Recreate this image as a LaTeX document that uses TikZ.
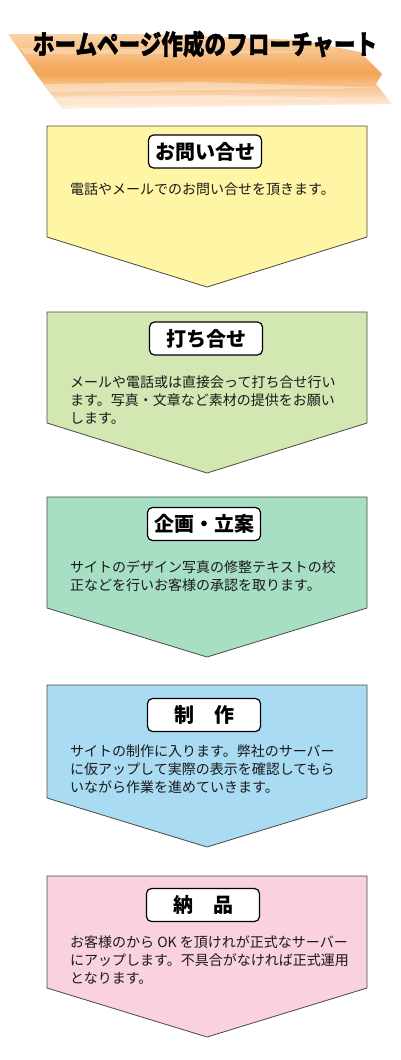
\documentclass[tikz,border=0pt]{standalone}
\usepackage{graphicx}
\usepackage{fontspec}
\newfontfamily\cjk{Noto Sans CJK JP}
\newfontfamily\cjktitle[FakeBold=1.5]{Noto Sans CJK JP}
\definecolor{edgegray}{HTML}{4A4A40}
\definecolor{textgray}{HTML}{1A1A1A}
\definecolor{fillyellow}{HTML}{FFF6A5}
\definecolor{fillgreen}{HTML}{D3E7B3}
\definecolor{fillteal}{HTML}{A7DFC5}
\definecolor{fillblue}{HTML}{A9DBF3}
\definecolor{fillpink}{HTML}{F9D1DF}
\definecolor{brushA}{HTML}{F3A75A}
\definecolor{brushB}{HTML}{FAD3A8}
\definecolor{brushC}{HTML}{FFF4E8}
\begin{document}
\begin{tikzpicture}[x=1pt,y=-1pt,
  stepshape/.style={draw=edgegray, line width=0.8pt},
  titlebox/.style={draw=black, line width=1.2pt, fill=white, rounded corners=5pt,
    minimum width=113pt, minimum height=33pt, inner sep=0pt,
    font=\cjk\bfseries\fontsize{20}{20}\selectfont},
  bodytext/.style={anchor=north west, inner sep=0pt, align=left,
    font=\cjk\fontsize{14}{18}\selectfont, text=textgray},
  titlefont/.style={font=\cjktitle\bfseries\fontsize{27}{27}\selectfont, inner sep=0pt}]
\useasboundingbox (0,0) rectangle (400,1060);
\fill[white] (0,0) rectangle (400,1060);

% brush stroke behind title
\shade[top color=brushB, bottom color=brushA]
  (8,34) -- (150,34) -- (300,40) -- (360,52) -- (382,74) -- (36,74) -- cycle;
\shade[top color=brushA, bottom color=brushC]
  (36,74) -- (382,74) -- (376,84) -- (392,104) -- (250,106) -- (120,108) -- (62,109) -- cycle;
\fill[white, opacity=0.35] (44,84) -- (200,82) -- (386,88) -- (220,90) -- (50,92) -- cycle;
\fill[white, opacity=0.3] (52,97) -- (220,95) -- (390,99) -- (200,101) -- (58,102) -- cycle;
\fill[brushA, opacity=0.35] (30,62) -- (200,60) -- (372,64) -- (380,74) -- (200,78) -- (38,76) -- cycle;
\fill[white, opacity=0.25] (20,48) -- (200,50) -- (340,52) -- (200,54) -- (26,54) -- cycle;

% title
\node[titlefont, text=black] (title) at (205,44)
  {\scalebox{0.8}[1]{ホームページ作成のフローチャート}};

% step 1
\filldraw[stepshape, fill=fillyellow] (47,126) -- (367,126) -- (367,237) -- (207,287) -- (47,237) -- cycle;
\node[titlebox] (t1) at (205,151.5) {お問い合せ};
\node[bodytext] (b1) at (70,183) {電話やメールでのお問い合せを頂きます。};

% step 2
\filldraw[stepshape, fill=fillgreen] (47,312) -- (367,312) -- (367,423) -- (207,473) -- (47,423) -- cycle;
\node[titlebox] (t2) at (206,338.5) {打ち合せ};
\node[bodytext] (b2) at (70,375) {メールや電話或は直接会って打ち合せ行い\\ます。写真・文章など素材の提供をお願い\\します。};

% step 3
\filldraw[stepshape, fill=fillteal] (47,497) -- (367,497) -- (367,608) -- (207,657) -- (47,608) -- cycle;
\node[titlebox] (t3) at (204,524) {企画・立案};
\node[bodytext] (b3) at (70,560) {サイトのデザイン写真の修整テキストの校\\正などを行いお客様の承認を取ります。};

% step 4
\filldraw[stepshape, fill=fillblue] (47,685) -- (367,685) -- (367,798) -- (207,847) -- (47,798) -- cycle;
\node[titlebox] (t4) at (204,715) {制　作};
\node[bodytext] (b4) at (70,745) {サイトの制作に入ります。弊社のサーバー\\に仮アップして実際の表示を確認してもら\\いながら作業を進めていきます。};

% step 5
\filldraw[stepshape, fill=fillpink] (47,876) -- (367,876) -- (367,988) -- (207,1037) -- (47,988) -- cycle;
\node[titlebox] (t5) at (203,905) {納　品};
\node[bodytext] (b5) at (70,935) {お客様のから OK を頂けれが正式なサーバー\\にアップします。不具合がなければ正式運用\\となります。};
\end{tikzpicture}
\end{document}
